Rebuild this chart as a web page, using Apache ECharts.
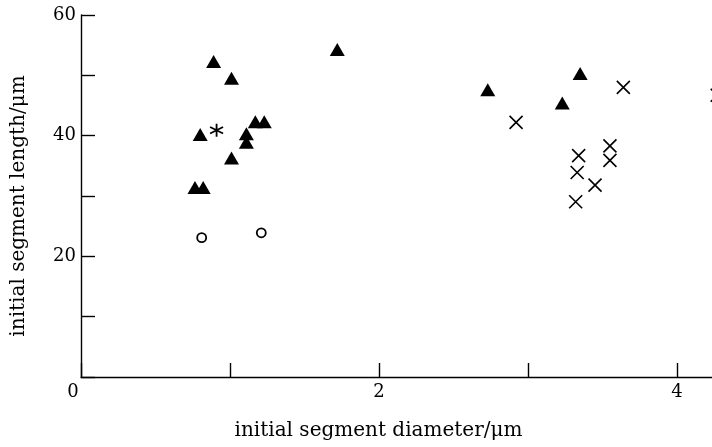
<!DOCTYPE html>
<html>
<head>
<meta charset="utf-8">
<script src="https://cdn.jsdelivr.net/npm/echarts@6/dist/echarts.min.js"></script>
<style>
  html, body { margin: 0; padding: 0; background: #fff; }
  #chart { width: 712px; height: 447px; }
</style>
</head>
<body>
<div id="chart"></div>
<script>
// [diameter µm, length µm]
const trianglePoints = [
    [0.89, 52.3], [1.01, 49.5], [0.80, 40.2], [0.765, 31.4], [0.82, 31.4],
    [1.01, 36.3], [1.11, 40.3], [1.11, 38.9], [1.17, 42.3], [1.23, 42.3],
    [1.72, 54.3], [2.73, 47.6], [3.23, 45.4], [3.35, 50.3]
];
const crossPoints = [
    [2.92, 42.2], [3.64, 48.0], [3.55, 38.3], [3.55, 35.9], [3.34, 36.7],
    [3.33, 33.9], [3.45, 31.8], [3.32, 29.05], [4.27, 46.7]
];
const circlePoints = [[0.81, 23.1], [1.21, 23.9]];
const starPoints = [[0.91, 40.9]];

const xLabels = { 0: '{z|0}', 2: '2', 4: '4' };
const yLabels = { 20: '20', 40: '40', 60: '60' };

const serif = '"DejaVu Serif", "Liberation Serif", serif';
const ink = '#000';

const chart = echarts.init(document.getElementById('chart'));

chart.setOption({
    backgroundColor: '#fff',
    animation: false,
    grid: { left: 81, top: 15, bottom: 70, right: 0 },
    xAxis: {
        type: 'value',
        min: 0,
        max: 4.235,
        interval: 1,
        name: 'initial segment diameter/\u03bcm',
        nameLocation: 'middle',
        nameGap: 44,
        nameTextStyle: { fontFamily: serif, fontSize: 20, color: ink, padding: [0, 36, 0, 0] },
        axisLine: { lineStyle: { color: ink, width: 1.4 } },
        axisTick: { inside: true, length: 14, lineStyle: { color: ink, width: 1.4 } },
        splitLine: { show: false },
        axisLabel: {
            fontFamily: serif, fontSize: 18, color: ink, margin: 6,
            showMaxLabel: false,
            formatter: v => xLabels[v] || '',
            rich: { z: { fontFamily: serif, fontSize: 18, color: ink, padding: [0, 16, 0, 0] } }
        }
    },
    yAxis: {
        type: 'value',
        min: 0,
        max: 60,
        interval: 10,
        name: 'initial segment length/\u03bcm',
        nameLocation: 'middle',
        nameGap: 52,
        nameTextStyle: { fontFamily: serif, fontSize: 20, color: ink, padding: [0, 20, 0, 0] },
        axisLine: { show: true, lineStyle: { color: ink, width: 1.4 } },
        axisTick: { show: true, inside: true, length: 14, lineStyle: { color: ink, width: 1.4 } },
        splitLine: { show: false },
        axisLabel: {
            fontFamily: serif, fontSize: 18, color: ink, margin: 5,
            formatter: v => yLabels[v] || ''
        }
    },
    series: [
        {
            type: 'scatter',
            data: trianglePoints,
            symbol: 'triangle',
            symbolSize: [15, 13],
            itemStyle: { color: ink, opacity: 1 }
        },
        {
            type: 'scatter',
            data: crossPoints,
            clip: false,
            symbol: 'path://M0,0L10,10M10,0L0,10',
            symbolSize: 13,
            itemStyle: { color: 'transparent', borderColor: ink, borderWidth: 1.6, opacity: 1 }
        },
        {
            type: 'scatter',
            data: circlePoints,
            symbol: 'circle',
            symbolSize: 9,
            itemStyle: { color: '#fff', borderColor: ink, borderWidth: 1.8, opacity: 1 }
        },
        {
            type: 'scatter',
            data: starPoints,
            symbol: 'path://M5,0L5,10M0.67,2.5L9.33,7.5M0.67,7.5L9.33,2.5',
            symbolSize: 13,
            itemStyle: { color: 'transparent', borderColor: ink, borderWidth: 1.8, opacity: 1 }
        }
    ]
});
</script>
</body>
</html>
